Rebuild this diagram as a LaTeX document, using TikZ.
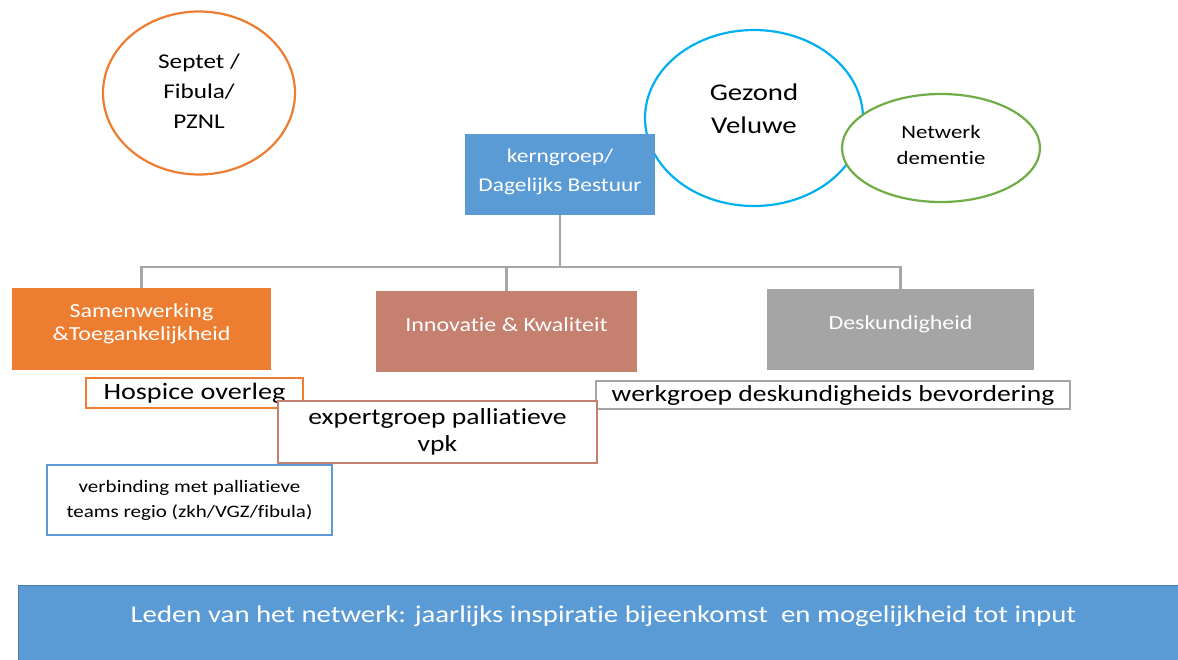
\documentclass[tikz,border=0pt]{standalone}
\usepackage{fontspec}
\setmainfont{Carlito}[FakeStretch=1.2,RawFeature=-liga]
\usetikzlibrary{shapes.geometric}
\definecolor{kernblauw}{HTML}{5B9BD5}
\definecolor{oranje}{HTML}{ED7D31}
\definecolor{roest}{HTML}{C5806F}
\definecolor{grijs}{HTML}{A5A5A5}
\definecolor{lichtblauw}{HTML}{00B0F0}
\definecolor{groen}{HTML}{70AD47}
\definecolor{lijngrijs}{HTML}{A6A6A6}
\begin{document}
\begin{tikzpicture}[x=1pt,y=-1pt,
		cirkel/.style={ellipse,draw,line width=2.2pt,fill=white,align=center,inner sep=0pt},
		vak/.style={rectangle,text=white,align=center,inner sep=0pt},
		kader/.style={rectangle,draw,line width=1.8pt,fill=white,align=center,inner sep=0pt},
		tak/.style={draw=lijngrijs,line width=2.2pt}]
	\useasboundingbox (0,0) rectangle (1178,659);
	\node[cirkel,draw=oranje,minimum width=192,minimum height=163,font=\fontsize{21}{30}\selectfont,text depth=4pt] (septet) at (199,93) {Septet /\\Fibula/\\PZNL};
	\node[cirkel,draw=lichtblauw,minimum width=218,minimum height=176,font=\fontsize{24}{33}\selectfont,text depth=18pt] (gezond) at (754,118) {Gezond\\Veluwe};
	\node[cirkel,draw=groen,minimum width=198,minimum height=108,font=\fontsize{19}{26}\selectfont,text depth=6pt] (dementie) at (941,148) {Netwerk\\dementie};
	\node[vak,fill=kernblauw,minimum width=190,minimum height=81,font=\fontsize{19.5}{29}\selectfont,text depth=8pt] (kern) at (560,174.5) {kerngroep/\\Dagelijks Bestuur};
	\node[vak,fill=oranje,minimum width=259,minimum height=82,font=\fontsize{20}{23}\selectfont,text depth=14pt] (samen) at (141.5,329) {Samenwerking\\\&Toegankelijkheid};
	\node[vak,fill=roest,minimum width=261,minimum height=81,font=\fontsize{20}{23}\selectfont,text depth=14pt] (innov) at (506.5,331.5) {Innovatie \& Kwaliteit};
	\node[vak,fill=grijs,minimum width=267,minimum height=81,font=\fontsize{20}{23}\selectfont,text depth=14pt] (desk) at (900.5,329.5) {Deskundigheid};
	\coordinate (split) at (560,267);
	\draw[tak] (kern.south) -- (split) -| (samen.north);
	\draw[tak] (split) -| (innov.north);
	\draw[tak] (split) -| (desk.north);
	\node[kader,draw=oranje,minimum width=217,minimum height=30,font=\fontsize{23.5}{25}\selectfont] (hospice) at (194.5,393) {Hospice overleg};
	\node[kader,draw=grijs,minimum width=474,minimum height=28,font=\fontsize{23}{25}\selectfont] (werkgroep) at (833,395) {werkgroep deskundigheids bevordering};
	\node[kader,draw=roest,minimum width=319,minimum height=62,font=\fontsize{23}{27}\selectfont] (expert) at (437.5,432) {expertgroep palliatieve\\vpk};
	\node[kader,draw=kernblauw,minimum width=285,minimum height=70,font=\fontsize{17.5}{25}\selectfont] (verbinding) at (189.5,500) {verbinding met palliatieve\\teams regio (zkh/VGZ/fibula)};
	\node[vak,fill=kernblauw,draw=kernblauw!80!black,line width=0.8pt,minimum width=1170,minimum height=76,anchor=north west,font=\fontsize{24}{26}\selectfont,text depth=19pt] (leden) at (18,585) {Leden van het netwerk: jaarlijks inspiratie bijeenkomst\ \ en mogelijkheid tot input};
\end{tikzpicture}
\end{document}
